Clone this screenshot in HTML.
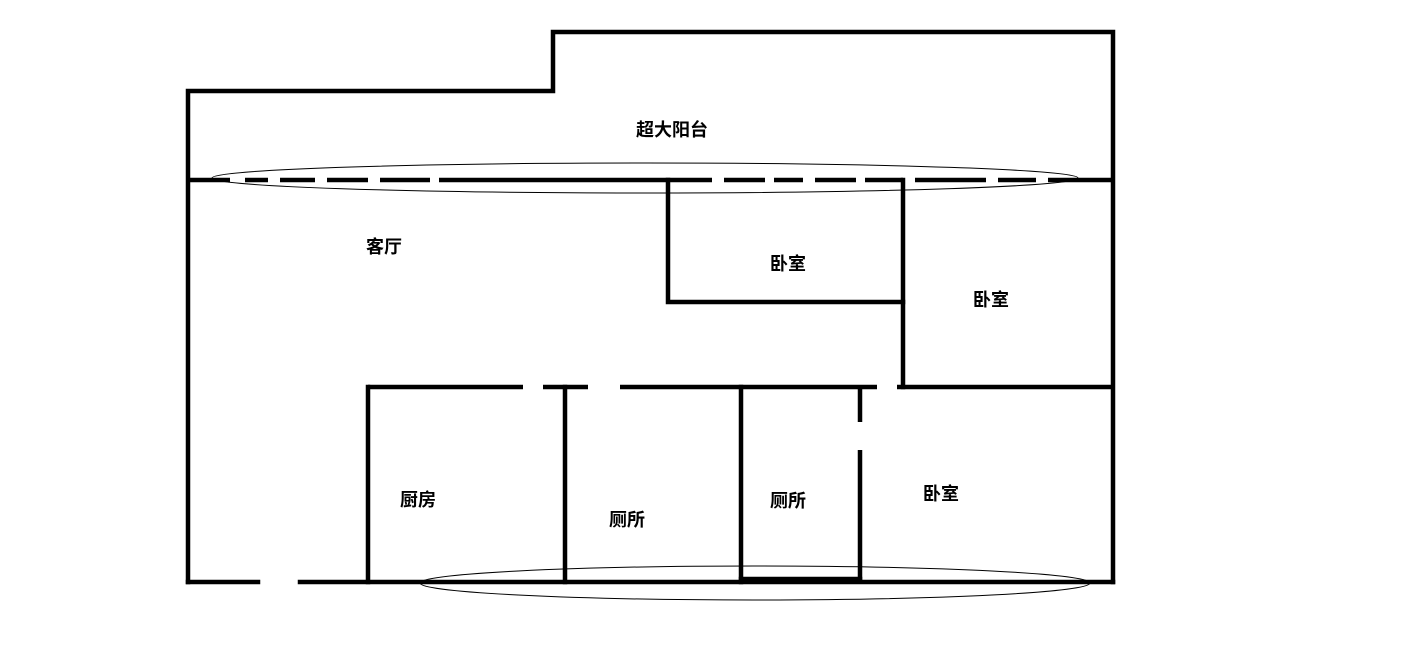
<!DOCTYPE html>
<html><head><meta charset="utf-8"><style>
body{margin:0;background:#fff;width:1419px;height:656px;overflow:hidden}
svg text{font-family:"Liberation Sans","Noto Sans CJK SC",sans-serif;font-size:18px;font-weight:bold;text-anchor:middle;dominant-baseline:middle}
</style></head><body>
<svg width="1419" height="656" viewBox="0 0 1419 656">
<g stroke="#000" stroke-width="4.5" fill="none" stroke-linecap="square">
<polyline points="188,582 188,91 553,91 553,32 1113,32 1113,582"/>
<line x1="188" y1="582" x2="258" y2="582"/>
<line x1="300" y1="582" x2="1113" y2="582"/>
<g stroke-linecap="butt">
<line x1="188" y1="180" x2="230" y2="180"/>
<line x1="245" y1="180" x2="268" y2="180"/>
<line x1="280" y1="180" x2="315" y2="180"/>
<line x1="327" y1="180" x2="368" y2="180"/>
<line x1="380" y1="180" x2="430" y2="180"/>
<line x1="439" y1="180" x2="712" y2="180"/>
<line x1="724" y1="180" x2="765" y2="180"/>
<line x1="774" y1="180" x2="803" y2="180"/>
<line x1="815" y1="180" x2="856" y2="180"/>
<line x1="865" y1="180" x2="903" y2="180"/>
<line x1="915" y1="180" x2="986" y2="180"/>
<line x1="998" y1="180" x2="1036" y2="180"/>
<line x1="1048" y1="180" x2="1113" y2="180"/>
<line x1="368" y1="387" x2="523" y2="387"/>
<line x1="543" y1="387" x2="588" y2="387"/>
<line x1="620" y1="387" x2="877" y2="387"/>
<line x1="897" y1="387" x2="1113" y2="387"/>
<line x1="860" y1="387" x2="860" y2="422"/>
<line x1="860" y1="450" x2="860" y2="582"/>
</g>
<polyline points="668,180 668,302 903,302"/>
<line x1="903" y1="180" x2="903" y2="387"/>
<line x1="368" y1="387" x2="368" y2="582"/>
<line x1="565" y1="387" x2="565" y2="582"/>
<line x1="741" y1="387" x2="741" y2="582"/>
<line x1="741" y1="579" x2="860" y2="579"/>
</g>
<g stroke="#000" stroke-width="1" fill="none">
<ellipse cx="645" cy="178" rx="433" ry="15"/>
<ellipse cx="755" cy="583" rx="335" ry="17"/>
</g>
<text x="672" y="131">超大阳台</text>
<text x="384" y="248">客厅</text>
<text x="788" y="265">卧室</text>
<text x="991" y="301">卧室</text>
<text x="418" y="501">厨房</text>
<text x="627" y="521">厕所</text>
<text x="788" y="502">厕所</text>
<text x="941" y="495">卧室</text>
</svg>
</body></html>
